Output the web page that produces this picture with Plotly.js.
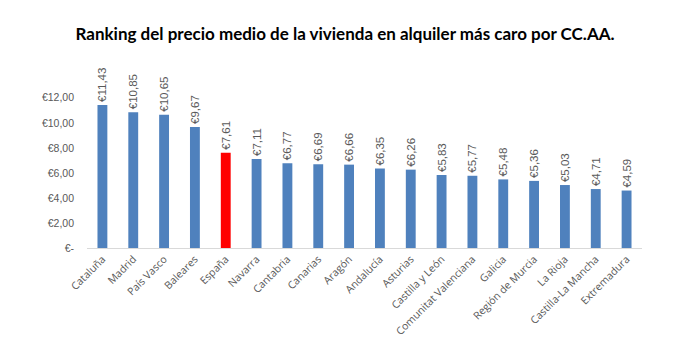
<!DOCTYPE html>
<html>
<head>
<meta charset="utf-8">
<script src="https://cdn.plot.ly/plotly-3.0.1.min.js"></script>
<style>html,body{margin:0;padding:0;background:#fff;}#chart{width:690px;height:344px;}</style>
</head>
<body>
<div id="chart"></div>
<script>
const categories = ["Cataluña","Madrid","País Vasco","Baleares","España","Navarra","Cantabria","Canarias","Aragón","Andalucía","Asturias","Castilla y León","Comunitat Valenciana","Galicia","Región de Murcia","La Rioja","Castilla-La Mancha","Extremadura"];
const values = [11.43,10.85,10.65,9.67,7.61,7.11,6.77,6.69,6.66,6.35,6.26,5.83,5.77,5.48,5.36,5.03,4.71,4.59];
const highlight = "España";
const tickVals = [0,2,4,6,8,10,12];
const tickLabels = ["€-","€2,00","€4,00","€6,00","€8,00","€10,00","€12,00"];

const labels = values.map(v => "€" + v.toFixed(2).replace(".", ","));
const colors = categories.map(c => c === highlight ? "#FF0000" : "#4F81BD");

Plotly.newPlot("chart", [{
  type: "bar",
  x: categories,
  y: values,
  marker: {color: colors},
  text: labels,
  textposition: "outside",
  textangle: -90,
  constraintext: "none",
  cliponaxis: false,
  textfont: {family: "Liberation Sans, Arial, sans-serif", size: 11.5, color: "#595959"},
  hoverinfo: "none"
}], {
  width: 690, height: 344,
  margin: {l: 87, r: 48, t: 74, b: 96},
  bargap: 0.68,
  paper_bgcolor: "#fff", plot_bgcolor: "#fff",
  title: {text: "Ranking del precio medio de la vivienda en alquiler más caro por CC.AA.",
          font: {family: "Lato, Open Sans, sans-serif", size: 17, color: "#000", weight: "bold"},
          x: 0.5, xanchor: "center", y: 0.9, yanchor: "middle", yref: "container"},
  xaxis: {tickangle: -45, tickfont: {family: "Open Sans, Lato, sans-serif", size: 10.5, color: "#595959"},
          showline: true, linecolor: "#D9D9D9", linewidth: 1, ticks: "", showgrid: false, fixedrange: true},
  yaxis: {range: [0, 13.9], tickvals: tickVals, ticktext: tickLabels, showgrid: false, zeroline: false,
          showline: false, ticks: "", ticklabelstandoff: 12,
          tickfont: {family: "Liberation Sans, Arial, sans-serif", size: 10.5, color: "#595959"}}
}, {displayModeBar: false, staticPlot: true});
</script>
</body>
</html>
